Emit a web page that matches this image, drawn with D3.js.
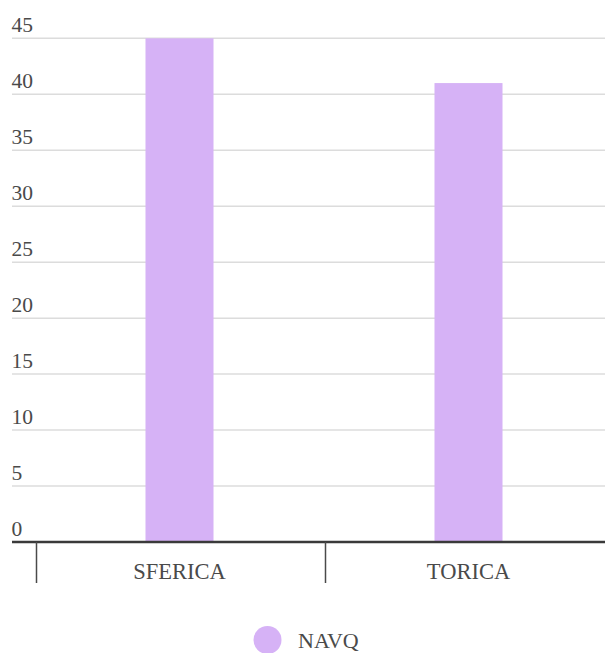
<!DOCTYPE html>
<html>
<head>
<meta charset="utf-8">
<script src="https://cdn.jsdelivr.net/npm/d3@7"></script>
<style>
  html, body { margin: 0; padding: 0; background: #fff; }
  svg { display: block; }
  text { font-family: "Liberation Serif", "Times New Roman", serif; fill: #4a4a4a; }
</style>
</head>
<body>
<div id="chart"></div>
<script>
const categories = ["SFERICA", "TORICA"];
const seriesName = "NAVQ";
const values = [45, 41];
const yTicks = [0, 5, 10, 15, 20, 25, 30, 35, 40, 45];

const W = 605, H = 653;
const barColor = "#d6b2f6";

const svg = d3.select("#chart").append("svg").attr("width", W).attr("height", H);

const y = d3.scaleLinear().domain([0, 45]).range([542, 38.3]);
const x = d3.scaleBand().domain(categories).range([35, 613]).padding(0);

// gridlines
svg.append("g").selectAll("line").data(yTicks.filter(d => d > 0)).join("line")
  .attr("x1", 12).attr("x2", W)
  .attr("y1", d => y(d)).attr("y2", d => y(d))
  .attr("stroke", "#dcdcdc").attr("stroke-width", 1.5);

// y labels
svg.append("g").selectAll("text").data(yTicks).join("text")
  .attr("x", 11.5).attr("y", d => y(d) - 6.5)
  .attr("font-size", 21.5)
  .text(d => d);

// bars
const bw = 68;
svg.append("g").selectAll("rect").data(categories).join("rect")
  .attr("x", (d) => x(d) + x.bandwidth() / 2 - bw / 2)
  .attr("width", bw)
  .attr("y", (d, i) => y(values[i]))
  .attr("height", (d, i) => y(0) - y(values[i]))
  .attr("fill", barColor);

// x axis
const axis = svg.append("g").attr("transform", `translate(0,${y(0)})`)
  .call(d3.axisBottom(x).tickSize(0).tickPadding(21));
axis.select(".domain").remove();
axis.selectAll("text")
  .attr("font-size", 22.5)
  .attr("font-family", "Liberation Serif, serif")
  .attr("fill", "#4a4a4a");

svg.append("line")
  .attr("x1", 12).attr("x2", W).attr("y1", y(0)).attr("y2", y(0))
  .attr("stroke", "#3a3a3a").attr("stroke-width", 2.5);

svg.append("g").selectAll("line").data(categories).join("line")
  .attr("x1", d => x(d) + 1.5).attr("x2", d => x(d) + 1.5)
  .attr("y1", y(0)).attr("y2", 583)
  .attr("stroke", "#4a4a4a").attr("stroke-width", 1.5);

// legend
const lg = svg.append("g");
lg.append("circle").attr("cx", 267.5).attr("cy", 640).attr("r", 14).attr("fill", barColor);
lg.append("text").attr("x", 298).attr("y", 648).attr("font-size", 22).text(seriesName);
</script>
</body>
</html>
